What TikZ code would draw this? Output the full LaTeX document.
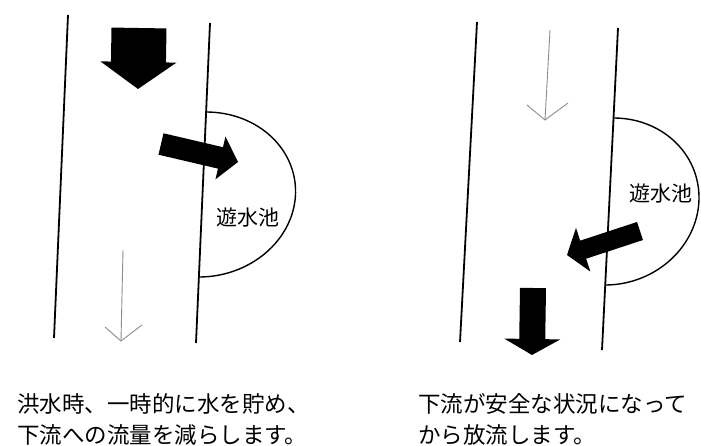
\documentclass[tikz,border=0pt]{standalone}
\usepackage{fontspec}
\newfontfamily\jp{Noto Sans CJK JP}
\usetikzlibrary{calc}
\tikzset{
  bank/.style={line width=1.8pt, black},
  pond/.style={line width=1.4pt, black},
  thinflow/.style={line width=0.9pt, black!45, line join=miter},
  fatfill/.style={fill=black},
  caption/.style={inner sep=0pt, anchor=base west, font=\jp\fontsize{22.5}{27}\selectfont},
  pondlabel/.style={inner sep=0pt, font=\jp\fontsize{21}{25}\selectfont},
}
% fat arrow: #1 start, #2 tip, #3 shaft half width, #4 head half width, #5 head length (pt)
\newcommand{\fatarrow}[5]{%
  \path ($(#2)!#5pt!(#1)$) coordinate (fab);
  \fill[fatfill] ($(#1)!#3pt!90:(#2)$) -- ($(fab)!#3pt!90:(#2)$) -- ($(fab)!#4pt!90:(#2)$)
    -- (#2) -- ($(fab)!#4pt!-90:(#2)$) -- ($(fab)!#3pt!-90:(#2)$) -- ($(#1)!#3pt!-90:(#2)$) -- cycle;
}
\begin{document}
\begin{tikzpicture}[x=1pt,y=-1pt]
\useasboundingbox (0,0) rectangle (701,446);

% ---------- left panel ----------
\coordinate (LLt) at (68,15);  \coordinate (LLb) at (54,338);
\coordinate (LRt) at (210,23); \coordinate (LRb) at (196,343);
\draw[bank] (LLt) -- (LLb);
\draw[bank] (LRt) -- (LRb);
\draw[pond] plot[domain=-90:90, samples=80, smooth] ({202.5-3.5*sin(\x)+93*cos(\x)},{194.5+82.5*sin(\x)});
\node[pondlabel] (lpond) at (247.5,217) {遊水池};

\coordinate (A1s) at (139,28);  \coordinate (A1t) at (138,89);
\fatarrow{A1s}{A1t}{27.5}{38}{27}
\coordinate (A2s) at (161,144); \coordinate (A2t) at (238,162);
\fatarrow{A2s}{A2t}{11}{22}{18}

\coordinate (T1s) at (123,250); \coordinate (T1t) at (121,341);
\coordinate (T1a) at (105,327); \coordinate (T1b) at (142,325);
\draw[thinflow] (T1s) -- (T1t);
\draw[thinflow] (T1a) -- (T1t) -- (T1b);

% ---------- right panel ----------
\coordinate (RLt) at (477,22);  \coordinate (RLb) at (460,342);
\coordinate (RRt) at (618,28);  \coordinate (RRb) at (602,350);
\draw[bank] (RLt) -- (RLb);
\draw[bank] (RRt) -- (RRb);
\draw[pond] plot[domain=-90:90, samples=80, smooth] ({609.4-4.2*sin(\x)+89.5*cos(\x)},{201.5+83.5*sin(\x)});
\node[pondlabel] (rpond) at (661,193) {遊水池};

\coordinate (T2s) at (550,30); \coordinate (T2t) at (545,120);
\coordinate (T2a) at (527,105); \coordinate (T2b) at (568,103);
\draw[thinflow] (T2s) -- (T2t);
\draw[thinflow] (T2a) -- (T2t) -- (T2b);

\coordinate (A3s) at (640,231); \coordinate (A3t) at (567,255);
\fatarrow{A3s}{A3t}{9.5}{23}{17}
\coordinate (A4s) at (533,288); \coordinate (A4t) at (532,355);
\fatarrow{A4s}{A4t}{13}{28}{16}

% ---------- captions ----------
\node[caption] (c1a) at (17,412) {洪水時、一時的に水を貯め、};
\node[caption] (c1b) at (17,443) {下流への流量を減らします。};
\node[caption] (c2a) at (418,412) {下流が安全な状況になって};
\node[caption] (c2b) at (418,443) {から放流します。};
\end{tikzpicture}
\end{document}
